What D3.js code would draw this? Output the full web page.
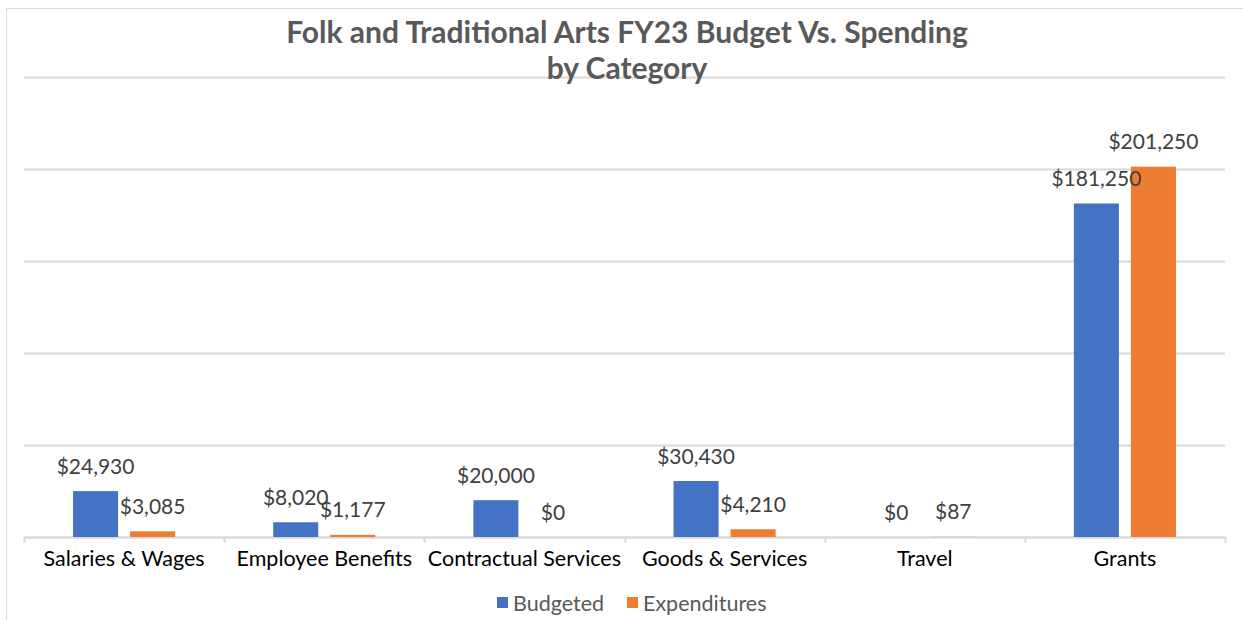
<!DOCTYPE html>
<html><head><meta charset="utf-8">
<script src="https://cdn.jsdelivr.net/npm/d3@7"></script>
<style>body{margin:0;background:#fff;}svg{display:block;font-family:Lato,"Open Sans",sans-serif;}</style>
</head><body>
<svg id="c" width="1243" height="620"></svg>
<script>
const categories = ["Salaries & Wages","Employee Benefits","Contractual Services","Goods & Services","Travel","Grants"];
const budgeted = [24930, 8020, 20000, 30430, 0, 181250];
const expenditures = [3085, 1177, 0, 4210, 87, 201250];
const seriesNames = ["Budgeted","Expenditures"];
const yTicks = [0, 50000, 100000, 150000, 200000, 250000];
const titleLines = ["Folk and Traditional Arts FY23 Budget Vs. Spending","by Category"];

const colors = ["#4472C4","#ED7D31"];
const svg = d3.select("#c");
const W = 1243, H = 620;
const m = {left:24, right:18, top:77, bottom:83};

svg.append("rect").attr("x",6.5).attr("y",8.5).attr("width",1260).attr("height",700)
  .attr("fill","#fff").attr("stroke","#D9D9D9").attr("stroke-width",1);

const x0 = d3.scaleBand().domain(categories).range([m.left, W-m.right]).paddingInner(0).paddingOuter(0);
const x1 = d3.scaleBand().domain(seriesNames).range([0, x0.bandwidth()]).paddingInner(0.21).paddingOuter(0.86);
const y = d3.scaleLinear().domain([0, 250000]).range([H-m.bottom, m.top]);

// gridlines
const yAxis = d3.axisLeft(y).tickValues(yTicks).tickSize(-(W-m.right-m.left)).tickFormat("");
const gy = svg.append("g").attr("transform",`translate(${m.left},0)`).call(yAxis);
gy.select(".domain").remove();
gy.selectAll(".tick line").attr("stroke","#D9D9D9").attr("stroke-width",2);

// x axis
const xAxis = d3.axisBottom(x0).tickSize(0).tickSizeOuter(0);
const gx = svg.append("g").attr("transform",`translate(0,${H-m.bottom})`).call(xAxis);
gx.select(".domain").attr("stroke","#D9D9D9").attr("stroke-width",2);
gx.selectAll(".tick text").attr("fill","#000").attr("font-size",21.5).attr("dy","0.36em").attr("y",21)
  .attr("font-family","Lato");
// category boundary ticks
const bounds = categories.map(c=>x0(c)).concat([x0(categories[categories.length-1])+x0.bandwidth()]);
svg.append("g").selectAll("line").data(bounds).join("line")
  .attr("x1",d=>Math.round(d)+0.5).attr("x2",d=>Math.round(d)+0.5)
  .attr("y1",H-m.bottom).attr("y2",H-m.bottom+6)
  .attr("stroke","#D9D9D9").attr("stroke-width",2);

const rows = categories.map((c,i)=>({cat:c, vals:[{s:seriesNames[0],v:budgeted[i]},{s:seriesNames[1],v:expenditures[i]}]}));
const groups = svg.append("g").selectAll("g").data(rows).join("g")
  .attr("transform",d=>`translate(${x0(d.cat)},0)`);
groups.selectAll("rect").data(d=>d.vals).join("rect")
  .attr("x",d=>x1(d.s)).attr("width",x1.bandwidth())
  .attr("y",d=>y(d.v)).attr("height",d=>y(0)-y(d.v))
  .attr("fill",(d,i)=>colors[i]);
groups.selectAll("text").data(d=>d.vals).join("text")
  .attr("x",d=>x1(d.s)+x1.bandwidth()/2).attr("y",d=>y(d.v)-25)
  .attr("dy","0.36em").attr("text-anchor","middle")
  .attr("font-size",21).attr("fill","#404040")
  .text(d=>"$"+d3.format(",")(d.v));

// title
svg.append("g").selectAll("text").data(titleLines).join("text")
  .attr("x",627).attr("y",(d,i)=>32+i*36).attr("dy","0.36em")
  .attr("text-anchor","middle").attr("font-size",30).attr("font-weight","bold").attr("fill","#595959")
  .text(d=>d);

// legend
const lg = svg.append("g");
const legX = [497, 627];
seriesNames.forEach((s,i)=>{
  lg.append("rect").attr("x",legX[i]).attr("y",597).attr("width",11).attr("height",11).attr("fill",colors[i]);
  lg.append("text").attr("x",legX[i]+16).attr("y",603).attr("dy","0.36em")
    .attr("font-size",21.5).attr("fill","#595959").text(s);
});
</script>
</body></html>
